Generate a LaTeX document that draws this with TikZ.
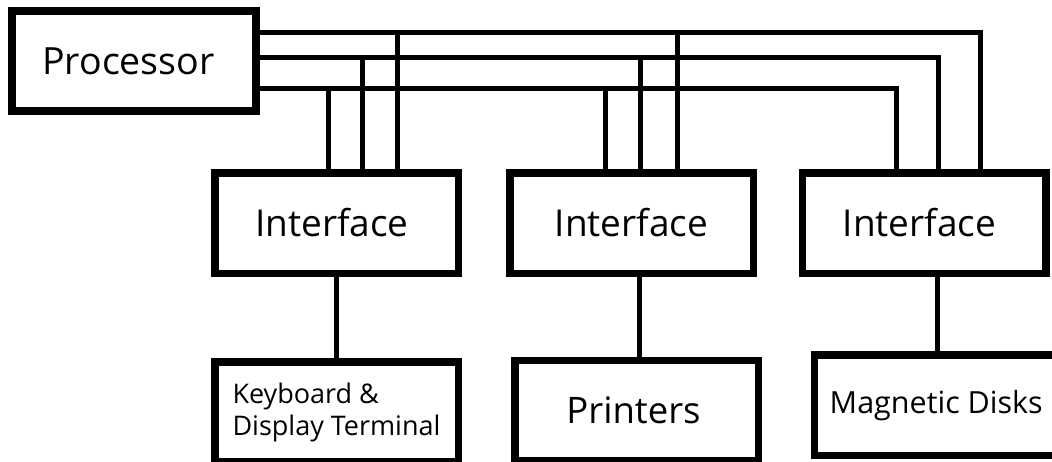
\documentclass[tikz,border=0pt]{standalone}
\usepackage{fontspec}
\setmainfont{Open Sans}
\begin{document}
\begin{tikzpicture}[x=1pt,y=-1pt,
  box/.style={draw=black, line width=7.5pt, fill=white, inner sep=0pt,
    minimum width=243.5pt, minimum height=100.5pt, font=\fontsize{37}{40}\selectfont},
  bus/.style={draw=black, line width=5pt},
  link/.style={draw=black, line width=5pt}]
\useasboundingbox (0,0) rectangle (1052,461);

% boxes
\node[box, line width=8pt, minimum width=244pt, minimum height=100pt,
      font=\fontsize{37.5}{40}\selectfont] (proc) at (134,61) {\hspace*{-11pt}Processor};
\node[box] (if1) at (336.5,223) {\hspace*{-9pt}Interface};
\node[box] (if2) at (631.5,223) {Interface};
\node[box] (if3) at (924,223) {\hspace*{-9pt}Interface};
\node[box, minimum height=100.25pt, align=left,
      font=\fontsize{27}{32}\selectfont] (dev1) at (336.5,412) {Keyboard \&\\Display Terminal};
\node[box, minimum height=100.25pt, font=\fontsize{36.5}{40}\selectfont] (dev2) at (636.5,410.6) {\hspace*{-6pt}Printers};
\node[box, minimum height=100.5pt, font=\fontsize{30.5}{32}\selectfont] (dev3) at (936.25,405.25) {Magnetic Disks};

% bus corner coordinates
\coordinate (busA) at (980.5,32);
\coordinate (busB) at (938,57.5);
\coordinate (busC) at (896,88.5);
% taps
\coordinate (a1) at (397,32);
\coordinate (b1) at (362,57.5);
\coordinate (c1) at (328.5,88.5);
\coordinate (a2) at (677,32);
\coordinate (b2) at (640.5,57.5);
\coordinate (c2) at (605.5,88.5);

% buses
\draw[bus] (proc.east |- busA) -- (busA) -- (busA |- if3.north);
\draw[bus] (proc.east |- busB) -- (busB) -- (busB |- if3.north);
\draw[bus] (proc.east |- busC) -- (busC) -- (busC |- if3.north);
\draw[bus] (a1) -- (a1 |- if1.north);
\draw[bus] (b1) -- (b1 |- if1.north);
\draw[bus] (c1) -- (c1 |- if1.north);
\draw[bus] (a2) -- (a2 |- if2.north);
\draw[bus] (b2) -- (b2 |- if2.north);
\draw[bus] (c2) -- (c2 |- if2.north);

% links to devices
\draw[link] (if1.south) -- (if1.south |- dev1.north);
\draw[link] ([xshift=7.5pt]if2.south) -- ([xshift=7.5pt]if2.south |- dev2.north);
\draw[link] ([xshift=13.5pt]if3.south) -- ([xshift=13.5pt]if3.south |- dev3.north);
\end{tikzpicture}
\end{document}
